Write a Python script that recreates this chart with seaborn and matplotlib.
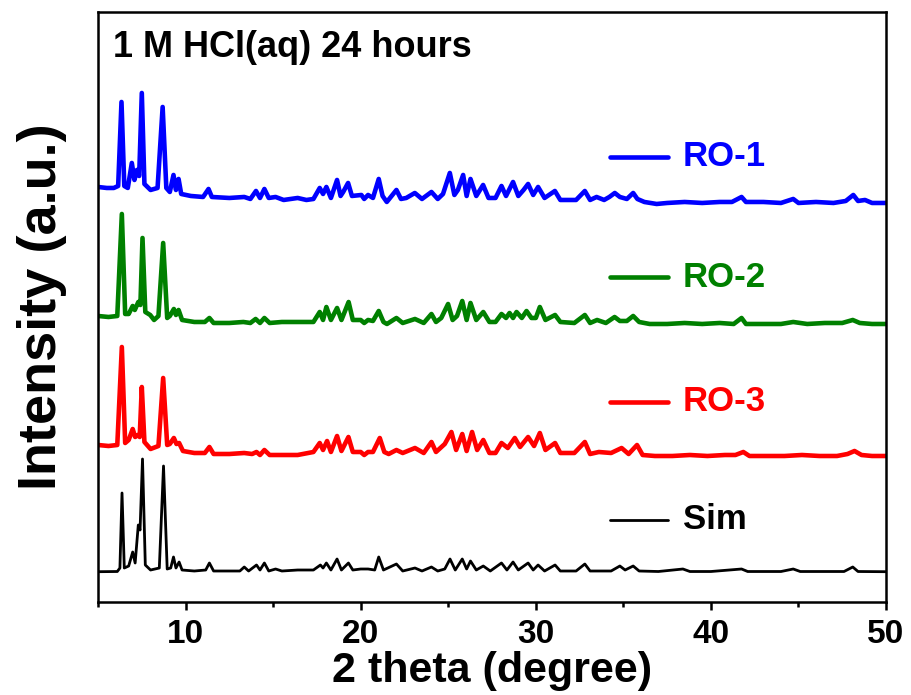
import numpy as np
import matplotlib
matplotlib.use("Agg")
import matplotlib.pyplot as plt
import seaborn as sns
from matplotlib.ticker import MultipleLocator

# ---------------- data (2 theta in degree, relative intensity in a.u.) ----------------
tt_ro1 = [5.0, 5.5, 5.9, 6.15, 6.34, 6.5, 6.7, 6.93, 7.08, 7.22, 7.35, 7.50, 7.65, 8.0, 8.4, 8.69, 8.9, 9.1,
          9.31, 9.45, 9.60, 9.75, 10.3, 11.0, 11.31, 11.5, 12.5, 13.35, 13.7, 14.02, 14.25, 14.5, 14.75, 15.14,
          15.6, 16.4, 16.9, 17.3, 17.66, 17.85, 18.04, 18.3, 18.65, 18.85, 19.0, 19.28, 19.5, 20.04, 20.2, 20.42,
          20.7, 21.03, 21.25, 21.49, 22.04, 22.3, 22.6, 23.09, 23.5, 24.04, 24.4, 24.7, 25.09, 25.35, 25.55, 25.85,
          26.05, 26.27, 26.6, 26.99, 27.3, 27.7, 28.04, 28.3, 28.7, 29.0, 29.3, 29.56, 29.85, 30.13, 30.5, 31.09,
          31.4, 31.75, 32.3, 32.8, 33.1, 33.47, 33.9, 34.2, 34.51, 34.8, 35.2, 35.56, 35.8, 36.2, 36.9, 37.5, 38.5,
          39.5, 40.5, 41.2, 41.75, 42.0, 43.0, 44.0, 44.7, 45.0, 46.0, 47.0, 47.7, 48.13, 48.4, 48.8, 49.2, 50.0]
int_ro1 = [17, 16, 16, 18, 102, 18, 16, 41, 24, 34, 28, 111, 20, 14, 16, 97, 16, 12, 29, 14, 25, 10, 8, 7, 15, 7,
           6, 7, 5, 13, 6, 15, 6, 7, 4, 6, 4, 5, 16, 10, 17, 6, 24, 8, 12, 21, 8, 9, 5, 9, 6, 25, 8, 2, 14, 5, 6, 11,
           5, 12, 5, 10, 31, 9, 14, 29, 8, 25, 8, 19, 6, 6, 18, 8, 22, 8, 14, 20, 9, 17, 6, 13, 4, 4, 4, 13, 4, 7, 4,
           7, 11, 7, 5, 11, 5, 2, 0, 1, 2, 1, 2, 2, 7, 2, 2, 1, 5, 1, 2, 1, 3, 9, 3, 4, 1, 1]

tt_ro2 = [5.0, 5.6, 6.1, 6.36, 6.55, 6.75, 6.98, 7.1, 7.3, 7.42, 7.54, 7.7, 7.98, 8.2, 8.45, 8.72, 8.95, 9.1, 9.33,
          9.45, 9.6, 9.8, 10.5, 11.1, 11.36, 11.6, 12.5, 13.3, 13.7, 14.0, 14.25, 14.5, 14.8, 15.5, 16.4, 17.3,
          17.66, 17.85, 18.04, 18.3, 18.65, 18.9, 19.31, 19.55, 20.0, 20.2, 20.42, 20.7, 21.03, 21.3, 21.5, 22.04,
          22.4, 23.1, 23.6, 24.04, 24.3, 24.6, 24.99, 25.25, 25.5, 25.8, 26.05, 26.27, 26.6, 27.0, 27.35, 27.7,
          28.04, 28.3, 28.5, 28.7, 28.9, 29.2, 29.47, 29.75, 30.0, 30.23, 30.55, 31.1, 31.4, 32.2, 32.8, 33.1, 33.5,
          34.0, 34.5, 34.8, 35.2, 35.56, 35.9, 36.5, 37.5, 38.5, 39.5, 40.5, 41.3, 41.75, 42.0, 43.0, 44.0, 44.7,
          45.5, 46.5, 47.5, 48.1, 48.5, 49.2, 50.0]
int_ro2 = [10, 9, 10, 112, 12, 12, 20, 16, 24, 21, 88, 14, 11, 6, 10, 83, 8, 10, 17, 11, 16, 6, 4, 4, 8, 3, 3, 4, 3,
           7, 3, 8, 3, 4, 4, 4, 14, 6, 19, 6, 18, 6, 24, 6, 6, 3, 6, 5, 15, 4, 2, 8, 3, 7, 3, 12, 4, 8, 22, 6, 10,
           25, 6, 23, 6, 14, 4, 4, 12, 8, 13, 8, 14, 8, 15, 8, 8, 19, 6, 11, 4, 3, 11, 3, 6, 3, 9, 5, 5, 10, 4, 2, 2,
           3, 2, 3, 2, 8, 2, 2, 2, 4, 2, 3, 3, 6, 3, 2, 2]

tt_ro3 = [5.0, 5.6, 6.1, 6.36, 6.55, 6.75, 6.98, 7.12, 7.28, 7.38, 7.5, 7.65, 8.0, 8.45, 8.72, 8.95, 9.1, 9.33, 9.48,
          9.63, 9.85, 10.5, 11.1, 11.36, 11.6, 12.5, 13.35, 13.8, 14.05, 14.25, 14.5, 14.8, 15.5, 16.4, 17.3, 17.66,
          17.85, 18.08, 18.3, 18.65, 18.9, 19.3, 19.55, 20.0, 20.2, 20.42, 20.7, 21.09, 21.35, 21.6, 22.04, 22.4,
          23.1, 23.6, 24.04, 24.3, 24.8, 25.18, 25.45, 25.8, 26.05, 26.36, 26.65, 27.0, 27.35, 27.7, 28.04, 28.4,
          28.8, 29.1, 29.56, 29.9, 30.23, 30.55, 31.1, 31.4, 32.2, 32.8, 33.1, 33.6, 34.3, 34.9, 35.3, 35.78, 36.1,
          36.8, 37.8, 38.8, 39.8, 40.8, 41.4, 41.85, 42.2, 43.2, 44.2, 45.2, 46.2, 47.2, 47.8, 48.2, 48.6, 49.2,
          50.0]
int_ro3 = [13, 12, 13, 111, 15, 18, 29, 21, 23, 21, 71, 16, 9, 12, 80, 13, 14, 20, 14, 15, 7, 5, 5, 11, 4, 4, 5, 4,
           6, 3, 8, 3, 3, 3, 6, 15, 8, 17, 6, 22, 7, 21, 6, 6, 3, 6, 6, 20, 6, 4, 8, 5, 10, 5, 16, 6, 14, 26, 8, 24,
           7, 26, 8, 18, 5, 5, 15, 10, 20, 11, 21, 12, 25, 8, 15, 5, 5, 16, 4, 6, 5, 10, 4, 13, 3, 2, 2, 3, 2, 3, 3,
           6, 2, 2, 2, 3, 2, 2, 4, 7, 3, 2, 2]

tt_sim = [5.0, 6.1, 6.25, 6.37, 6.5, 6.75, 6.98, 7.12, 7.3, 7.4, 7.54, 7.7, 8.0, 8.5, 8.74, 8.95, 9.15, 9.31, 9.45,
          9.63, 9.8, 10.5, 11.15, 11.36, 11.6, 12.5, 13.1, 13.35, 13.6, 14.05, 14.25, 14.5, 14.75, 15.14, 15.5,
          16.4, 17.3, 17.7, 17.85, 18.04, 18.3, 18.65, 18.9, 19.3, 19.55, 20.0, 20.42, 20.8, 21.03, 21.3, 22.04,
          22.4, 23.1, 23.5, 24.04, 24.4, 24.8, 25.1, 25.4, 25.8, 26.05, 26.27, 26.6, 27.0, 27.4, 28.04, 28.35, 28.7,
          29.0, 29.56, 29.85, 30.13, 30.5, 31.1, 31.4, 32.3, 32.8, 33.1, 34.3, 34.8, 35.1, 35.56, 35.9, 37.0, 38.4,
          38.8, 40.0, 41.75, 42.1, 44.0, 44.7, 45.1, 47.6, 48.1, 48.4, 50.0]
int_sim = [0.3, 0.5, 4, 79, 4, 6, 20, 9, 47, 42, 113, 7, 2, 4, 106, 3, 4, 15, 4, 10, 2, 1, 2, 9, 1, 1, 1, 5, 1, 7,
           2, 9, 1, 3, 1, 2, 2, 7, 4, 9, 2, 13, 2, 9, 2, 3, 3, 2, 15, 2, 8, 1, 4, 1, 5, 1, 3, 13, 2, 13, 3, 11, 2,
           6, 1, 9, 2, 10, 2, 9, 2, 7, 1, 7, 1, 1, 8, 1, 1, 6, 2, 6, 1, 0.5, 3, 0.5, 0.5, 3, 0.5, 0.5, 3, 0.5, 0.5,
           5, 0.5, 0.3]

labels = ["RO-1", "RO-2", "RO-3", "Sim"]
offsets = [398, 276, 144, 30]
colors = ["#0000FF", "#008000", "#FF0000", "#000000"]
title_text = "1 M HCl(aq) 24 hours"

# ---------------- figure ----------------
sns.set_theme(style="ticks")
plt.rcParams['font.family'] = ['Liberation Sans', 'DejaVu Sans']
plt.rcParams['font.weight'] = 'bold'
plt.rcParams.update({'text.color': 'black', 'axes.labelcolor': 'black', 'xtick.color': 'black',
                     'ytick.color': 'black', 'axes.edgecolor': 'black'})

fig = plt.figure(figsize=(9.11, 6.95), dpi=100)
ax = fig.add_axes([0.1076, 0.1338, 0.865, 0.849])

series = [(tt_ro1, int_ro1), (tt_ro2, int_ro2), (tt_ro3, int_ro3), (tt_sim, int_sim)]
widths = [3.3, 3.3, 3.3, 2.0]
for (tt, inten), off, col, lw in zip(series, offsets, colors, widths):
    sns.lineplot(x=tt, y=np.asarray(inten, dtype=float) + off, color=col, lw=lw,
                 ax=ax, estimator=None, sort=False)

ax.set_xlim(5, 50)
ax.set_ylim(0, 590)
ax.xaxis.set_major_locator(MultipleLocator(10))
ax.xaxis.set_minor_locator(MultipleLocator(5))
ax.set_yticks([])
ax.tick_params(axis='x', which='major', direction='out', length=6, width=1.8, labelsize=24, pad=6,
               color='black', labelcolor='black')
ax.tick_params(axis='x', which='minor', direction='out', length=3.5, width=1.8, color='black')
for lab in ax.get_xticklabels():
    lab.set_fontweight('bold')
for sp in ax.spines.values():
    sp.set_linewidth(1.8)
    sp.set_color('black')
    sp.set_visible(True)

ax.set_xlabel("2 theta (degree)", fontsize=31, fontweight='bold', labelpad=1, color='black')
ax.set_ylabel("Intensity (a.u.)", fontsize=39, fontweight='bold', labelpad=22, color='black')

ax.text(0.019, 0.939, title_text, transform=ax.transAxes, fontsize=26, fontweight='bold',
        ha='left', va='center', color='black')

# legend-like labels
leg_y = [0.7542, 0.5508, 0.339, 0.139]
for lab, col, yy, lw in zip(labels, colors, leg_y, widths):
    ax.plot([0.6497, 0.7234], [yy, yy], transform=ax.transAxes, color=col, lw=lw)
    ax.text(0.7424, yy, lab, transform=ax.transAxes, fontsize=25, fontweight='bold',
            color=col, ha='left', va='center')

fig.savefig("out.png", dpi=100)
